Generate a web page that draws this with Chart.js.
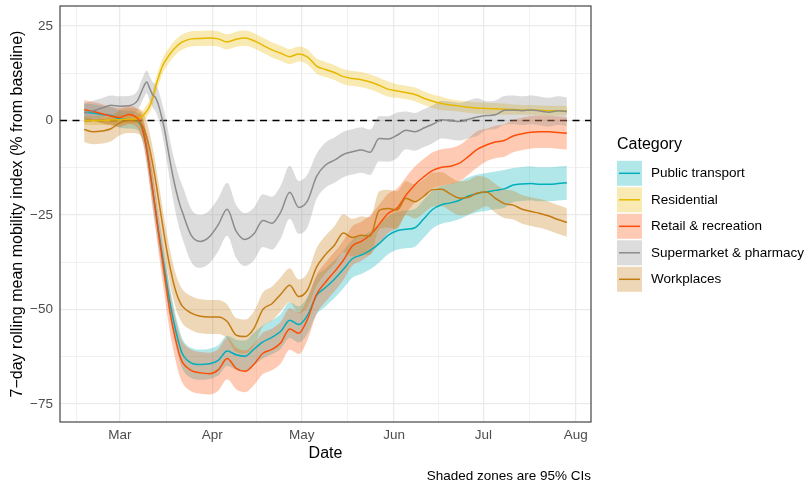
<!DOCTYPE html>
<html>
<head>
<meta charset="utf-8">
<title>Mobility</title>
<script src="https://cdn.jsdelivr.net/npm/chart.js@4.4.1/dist/chart.umd.min.js"></script>
<style>
  html, body { margin: 0; padding: 0; background: #fff; }
</style>
</head>
<body>
<canvas id="chart-mobility" width="809" height="482"></canvas>
<script>
// days counted from 1 March 2020
const days = [-12, -9, -6, -3, 0, 3, 6,
  7, 8, 9, 10, 11, 12, 13, 14, 15, 16, 17, 18, 19, 20, 21,
  24, 27, 30, 33, 36, 39, 42, 45, 48, 51, 54, 57, 60, 63, 66, 69, 72, 75, 78, 81, 84, 87, 90, 93, 96, 99, 102, 105,
  108, 111, 114, 117, 120, 123, 126, 129, 132, 135, 138, 141, 144, 147, 150];

const monthStarts = [0, 31, 61, 92, 122, 153];
const monthLabels = ['Mar', 'Apr', 'May', 'Jun', 'Jul', 'Aug'];
const febStart = -29;
const yTicks = [-75, -50, -25, 0, 25];

const categories = ['Public transport', 'Residential', 'Retail & recreation', 'Supermarket & pharmacy', 'Workplaces'];
const lineColors = ['#00AFBB', '#E7B800', '#FC4E07', '#8C8C8C', '#C47B12'];
const bandColors = ['rgba(0,175,187,0.3)', 'rgba(231,184,0,0.3)', 'rgba(252,78,7,0.3)', 'rgba(140,140,140,0.3)', 'rgba(196,123,18,0.3)'];

const transitMean = [2.2, 2.0, 1.6, 1.3, 0.4, 0.2, -0.2,
  -1.2, -3.5, -7.5, -13, -18.5, -24, -29.5, -34.5, -39.5, -44.5, -49, -53, -56.5, -59.5, -61.8,
  -64.2, -64.6, -64.4, -63.5, -61, -62, -62.4, -60.5, -58.6, -57.4, -55.8, -52.9, -54, -51.5, -46.3, -44.2, -42, -39.4, -36.6, -35.6, -34.4, -32.6, -30.4, -29.2, -28.8, -28.4, -26, -23.5,
  -22.3, -21.8, -21.1, -20, -19.3, -18.9, -18.5, -18.1, -17.1, -16.8, -16.7, -16.9, -16.9, -16.7, -16.5];
const transitLow = [-0.1, -0.3, -0.7, -1.0, -1.9, -2.1, -2.5,
  -3.8, -6.4, -10.7, -16.5, -22.3, -28, -33.5, -38.5, -43.5, -48.5, -53, -57, -60.5, -63.5, -65.8,
  -68.2, -68.6, -68.4, -67.5, -65, -66, -66.6, -64.8, -63, -61.9, -60.4, -57.6, -58.8, -56.4, -51.3, -49.2, -47, -44.4, -41.6, -40.6, -39.4, -37.6, -35.4, -34.2, -33.8, -33.4, -31, -28.5,
  -27.3, -26.8, -26.1, -25, -24.3, -23.9, -23.5, -23.1, -21.6, -21.3, -21.2, -21.4, -21.4, -21.2, -21];
const transitHigh = [4.5, 4.3, 3.9, 3.6, 2.7, 2.5, 2.1,
  1.4, -0.6, -4.3, -9.5, -14.7, -20, -25.5, -30.5, -35.5, -40.5, -45, -49, -52.5, -55.5, -57.8,
  -60.2, -60.6, -60.4, -59.5, -57, -58, -58.2, -56.2, -54.2, -52.9, -51.2, -48.2, -49.2, -46.6, -41.3, -39.2, -37, -34.4, -31.6, -30.6, -29.4, -27.6, -25.4, -24.2, -23.8, -23.4, -21, -18.5,
  -17.3, -16.8, -16.1, -15, -14.3, -13.9, -13.5, -13.1, -12.6, -12.3, -12.2, -12.4, -12.4, -12.2, -12];

const residentialMean = [0.0, 0.0, 0.0, 0.1, 0.2, 0.3, 0.5,
  0.8, 1.5, 2.5, 3.8, 6.0, 9.0, 11.5, 13.8, 15.5, 16.7, 17.8, 18.8, 19.6, 20.3, 20.8,
  21.6, 21.7, 21.8, 21.6, 20.8, 21.5, 21.8, 21.1, 19.9, 18.7, 17.8, 16.9, 17.6, 16.8, 14.4, 13.5, 12.7, 11.6, 11.1, 10.8, 10.2, 9.3, 8.3, 7.8, 7.4, 6.9, 5.9, 5.1,
  4.5, 4.1, 3.8, 3.5, 3.3, 3.2, 3.1, 3.0, 2.9, 2.8, 2.8, 2.7, 2.6, 2.6, 2.6];
const residentialLow = [-1.2, -1.2, -1.2, -1.1, -1.0, -0.9, -0.7,
  -0.6, 0.0, 0.9, 2.1, 4.2, 7.1, 9.5, 11.8, 13.5, 14.7, 15.8, 16.8, 17.6, 18.3, 18.8,
  19.6, 19.7, 19.8, 19.6, 18.8, 19.5, 19.8, 19.1, 17.9, 16.7, 15.8, 14.9, 15.6, 14.8, 12.4, 11.5, 10.7, 9.6, 9.1, 8.8, 8.2, 7.3, 6.3, 6.0, 5.6, 5.1, 4.1, 3.3,
  2.7, 2.6, 2.3, 2.0, 1.8, 1.7, 1.6, 1.5, 1.6, 1.5, 1.5, 1.4, 1.3, 1.3, 1.3];
const residentialHigh = [1.2, 1.2, 1.2, 1.3, 1.4, 1.5, 1.7,
  2.2, 3.0, 4.1, 5.5, 7.8, 10.9, 13.5, 15.8, 17.5, 18.7, 19.8, 20.8, 21.6, 22.3, 22.8,
  23.6, 23.7, 23.8, 23.6, 22.8, 23.5, 23.8, 23.1, 21.9, 20.7, 19.8, 18.9, 19.6, 18.8, 16.4, 15.5, 14.7, 13.6, 13.1, 12.8, 12.2, 11.3, 10.3, 9.6, 9.2, 8.7, 7.7, 6.9,
  6.3, 5.6, 5.3, 5.0, 4.8, 4.7, 4.6, 4.5, 4.2, 4.1, 4.1, 4.0, 3.9, 3.9, 3.9];

const retailMean = [2.9, 2.4, 1.8, 1.2, 0.8, 1.6, 0.5,
  -0.8, -3.5, -7.7, -13, -18.5, -24, -30, -35.5, -41, -46.5, -51.5, -55.5, -59, -62, -64,
  -66.2, -66.8, -67, -66, -63, -65.6, -66.4, -64.5, -61.6, -60.6, -58.8, -55.2, -56.3, -52.5, -46, -42.8, -40, -37, -33.2, -32, -30.3, -27.5, -24.6, -23.2, -19.8, -17, -14.9, -13.2,
  -12.4, -12.1, -11.3, -9.5, -7.6, -6.5, -5.7, -5.3, -4.1, -3.5, -3.1, -3.0, -3.0, -3.2, -3.4];
const retailLow = [0.4, -0.1, -0.7, -1.3, -1.7, -0.9, -2.0,
  -3.8, -7.0, -11.7, -17.5, -23.5, -29, -35, -40.8, -46.3, -52, -57, -61, -64.5, -67.5, -69.5,
  -71.7, -72.3, -72.5, -71.5, -68.5, -71.1, -71.9, -70, -67.1, -66.1, -64.3, -60.7, -61.8, -58, -51.2, -48, -45.2, -42.2, -38.4, -37.2, -35.5, -32.7, -29.8, -28.4, -24.6, -21.8, -19.7, -18,
  -17.2, -16.9, -16.1, -14.3, -12.4, -10.8, -10, -9.6, -8.4, -7.8, -7.4, -7.3, -7.3, -7.5, -7.7];
const retailHigh = [5.4, 4.9, 4.3, 3.7, 3.3, 4.1, 3.0,
  2.2, 0.0, -3.7, -8.5, -13.5, -19, -25, -30.2, -35.7, -41, -46, -50, -53.5, -56.5, -58.5,
  -60.7, -61.3, -61.5, -60.5, -57.5, -60.1, -60.9, -59, -56.1, -55.1, -53.3, -49.7, -50.8, -47, -40.8, -37.6, -34.8, -31.8, -28, -26.8, -25.1, -22.3, -19.4, -18, -15, -12.2, -10.1, -8.4,
  -7.6, -7.3, -6.5, -4.7, -2.8, -2.2, -1.4, -1.0, 0.2, 0.8, 1.2, 1.3, 1.3, 1.1, 0.9];

const groceryMean = [2.0, 2.6, 3.3, 4.0, 3.8, 3.9, 5.4,
  7.2, 9.0, 10.2, 8.5, 6.8, 6.0, 4.0, 1.0, -2.5, -7, -11.5, -15.5, -19, -22, -24.3,
  -30.5, -32, -30.8, -27.6, -23.5, -29.3, -31.5, -30, -26.5, -27.2, -24.2, -19, -23, -21.2, -14.8, -11.8, -10.5, -9, -8.3, -7.8, -8.4, -4.8, -4.9, -3.9, -2.6, -3.0, -2.0, -1.0,
  0.2, 0.0, -0.3, 0.3, 0.9, 1.3, 1.5, 2.7, 2.8, 2.6, 2.8, 2.5, 2.2, 2.6, 2.3];
const groceryLow = [-0.6, 0.0, 0.7, 1.4, 1.2, 1.3, 2.8,
  4.2, 6.0, 7.2, 5.3, 3.4, 2.4, 0.2, -3.0, -7.0, -12.0, -17.0, -21.5, -25.5, -28.8, -31.3,
  -37.5, -39, -37.8, -34.6, -30.5, -36.3, -38.5, -37, -33.5, -34.2, -31.2, -26, -30, -28.2, -20.8, -17.8, -16.5, -15, -14.3, -13.8, -14.4, -10.8, -10.9, -9.9, -7.6, -8, -7, -6,
  -4.8, -5, -5.3, -4.7, -4.1, -2.5, -2.3, -1.1, -1.0, -1.2, -1.0, -1.3, -1.6, -1.2, -1.5];
const groceryHigh = [4.6, 5.2, 5.9, 6.6, 6.4, 6.5, 8.0,
  10.2, 12.0, 13.2, 11.7, 10.2, 9.6, 7.8, 5.0, 2.0, -2.0, -6.0, -9.5, -12.5, -15.2, -17.3,
  -23.5, -25, -23.8, -20.6, -16.5, -22.3, -24.5, -23, -19.5, -20.2, -17.2, -12, -16, -14.2, -8.8, -5.8, -4.5, -3, -2.3, -1.8, -2.4, 1.2, 1.1, 2.1, 2.4, 2.0, 3.0, 4.0,
  5.2, 5.0, 4.7, 5.3, 5.9, 5.1, 5.3, 6.5, 6.6, 6.4, 6.6, 6.3, 6.0, 6.4, 6.1];

const workMean = [-2.4, -3.0, -2.8, -2.2, -0.6, 0.0, -0.2,
  -0.6, -2.0, -4.3, -7.5, -11.5, -16, -21, -26, -31, -35.5, -39.5, -43, -45.8, -47.8, -49.2,
  -51, -51.8, -52, -52, -53.2, -56.8, -57.2, -55, -50, -48.5, -46, -43.6, -46.6, -44.8, -38.8, -35.5, -33, -29.8, -31, -30.4, -30.6, -23.8, -23.3, -23.7, -20.6, -21.5, -20, -18.3,
  -18.2, -19.5, -20.6, -20.3, -19.2, -18.9, -20.6, -22, -22.4, -23.5, -24.1, -24.6, -25.3, -26.2, -27.0];
const workLow = [-5.7, -6.3, -6.1, -5.5, -3.9, -3.3, -3.5,
  -4.1, -5.7, -8.3, -11.7, -15.9, -20.5, -25.5, -30.5, -35.5, -40, -44, -47.5, -50.3, -52.3, -53.7,
  -55.5, -56.3, -56.5, -56.5, -57.7, -61.3, -61.7, -59.5, -54.5, -53, -50.5, -48.1, -51.1, -49.3, -43.8, -40.5, -38, -34.8, -36, -35.4, -35.6, -28.8, -28.3, -28.7, -25.1, -26, -24.5, -22.8,
  -22.7, -24, -25.1, -24.8, -23.7, -22.7, -24.4, -25.8, -26.2, -27.3, -27.9, -28.4, -29.1, -30, -30.8];
const workHigh = [0.9, 0.3, 0.5, 1.1, 2.7, 3.3, 3.1,
  2.9, 1.7, -0.3, -3.3, -7.1, -11.5, -16.5, -21.5, -26.5, -31, -35, -38.5, -41.3, -43.3, -44.7,
  -46.5, -47.3, -47.5, -47.5, -48.7, -52.3, -52.7, -50.5, -45.5, -44, -41.5, -39.1, -42.1, -40.3, -33.8, -30.5, -28, -24.8, -26, -25.4, -25.6, -18.8, -18.3, -18.7, -16.1, -17, -15.5, -13.8,
  -13.7, -15, -16.1, -15.8, -14.7, -15.1, -16.8, -18.2, -18.6, -19.7, -20.3, -20.8, -21.5, -22.4, -23.2];

const series = [
  { mean: transitMean, low: transitLow, high: transitHigh },
  { mean: residentialMean, low: residentialLow, high: residentialHigh },
  { mean: retailMean, low: retailLow, high: retailHigh },
  { mean: groceryMean, low: groceryLow, high: groceryHigh },
  { mean: workMean, low: workLow, high: workHigh },
];

const FONT = "'Liberation Sans', Arial, Helvetica, sans-serif";
Chart.defaults.font.family = FONT;

const toPoints = arr => days.map((d, i) => ({ x: d, y: arr[i] }));

// lines first in the list are drawn last, so reverse to keep Workplaces on top
const lineSets = [];
const bandSets = [];
for (let i = categories.length - 1; i >= 0; i--) {
  lineSets.push({
    label: categories[i],
    data: toPoints(series[i].mean),
    borderColor: lineColors[i],
    borderWidth: 1.5,
    pointRadius: 0,
    fill: false,
    cubicInterpolationMode: 'monotone',
  });
  bandSets.push({
    label: categories[i] + ' low',
    data: toPoints(series[i].low),
    borderWidth: 0,
    borderColor: 'transparent',
    pointRadius: 0,
    fill: false,
    cubicInterpolationMode: 'monotone',
  });
  bandSets.push({
    label: categories[i] + ' high',
    data: toPoints(series[i].high),
    borderWidth: 0,
    borderColor: 'transparent',
    backgroundColor: bandColors[i],
    pointRadius: 0,
    fill: '-1',
    cubicInterpolationMode: 'monotone',
  });
}

const xMinor = monthStarts.map((m, i) => ((i ? monthStarts[i - 1] : febStart) + m) / 2);
const yMinor = yTicks.slice(1).map((v, i) => (v + yTicks[i]) / 2);

const ggDecor = {
  id: 'ggDecor',
  beforeDatasetsDraw(chart) {
    // zero reference line sits under the ribbons
    const { ctx, chartArea: a, scales: { y } } = chart;
    const y0 = y.getPixelForValue(0);
    ctx.save();
    ctx.strokeStyle = '#000';
    ctx.lineWidth = 1.7;
    ctx.setLineDash([7, 5.5]);
    ctx.beginPath();
    ctx.moveTo(a.left, y0);
    ctx.lineTo(a.right, y0);
    ctx.stroke();
    ctx.restore();
  },
  afterDatasetsDraw(chart) {
    const { ctx, chartArea: a } = chart;
    ctx.save();
    ctx.strokeStyle = '#333';
    ctx.lineWidth = 1.1;
    ctx.strokeRect(a.left, a.top, a.right - a.left, a.bottom - a.top);
    ctx.restore();
  },
  afterDraw(chart) {
    const { ctx, chartArea: a } = chart;
    const mid = (a.top + a.bottom) / 2;
    const keyX = a.right + 26;
    const textX = a.right + 60;
    ctx.save();
    ctx.textBaseline = 'middle';
    ctx.textAlign = 'left';
    ctx.fillStyle = '#000';
    ctx.font = '16px ' + FONT;
    ctx.fillText('Category', keyX, mid - 69);
    categories.forEach((name, i) => {
      const cy = mid - 40.7 + i * 26.5;
      ctx.fillStyle = bandColors[i];
      ctx.fillRect(keyX, cy - 12.5, 25, 25);
      ctx.strokeStyle = lineColors[i];
      ctx.lineWidth = 1.5;
      ctx.beginPath();
      ctx.moveTo(keyX + 2, cy);
      ctx.lineTo(keyX + 23, cy);
      ctx.stroke();
      ctx.fillStyle = '#000';
      ctx.font = '13.5px ' + FONT;
      ctx.fillText(name, textX, cy);
    });
    // caption
    ctx.textAlign = 'right';
    ctx.font = '13.5px ' + FONT;
    ctx.fillText('Shaded zones are 95% CIs', a.right, 476);
    ctx.restore();
  },
};

const gridWidth = ctx => (ctx.tick && ctx.tick.minor ? 0.8 : 1.3);
const gridColor = ctx => (ctx.tick && ctx.tick.minor ? '#EEEEEE' : '#EBEBEB');

new Chart(document.getElementById('chart-mobility'), {
  type: 'line',
  data: { datasets: [...lineSets, ...bandSets] },
  plugins: [ggDecor],
  options: {
    responsive: false,
    animation: false,
    events: [],
    layout: { padding: { left: 0, top: 6, right: 218, bottom: 0 } },
    plugins: {
      legend: { display: false },
      tooltip: { enabled: false },
    },
    scales: {
      x: {
        type: 'linear',
        min: -20.1,
        max: 158.1,
        afterBuildTicks: scale => {
          scale.ticks = monthStarts.map(v => ({ value: v }))
            .concat(xMinor.map(v => ({ value: v, minor: true })))
            .sort((p, q) => p.value - q.value);
        },
        afterFit: scale => { scale.height = 60; },
        ticks: {
          autoSkip: false,
          maxRotation: 0,
          padding: 5,
          color: '#4D4D4D',
          font: { size: 13.5 },
          callback: value => {
            const k = monthStarts.indexOf(value);
            return k >= 0 ? monthLabels[k] : '';
          },
        },
        grid: { color: gridColor, lineWidth: gridWidth, drawTicks: false },
        border: { display: false },
        title: {
          display: true,
          text: 'Date',
          color: '#000',
          font: { size: 16 },
          padding: { top: 0, bottom: 19 },
        },
      },
      y: {
        type: 'linear',
        min: -79.8,
        max: 30.3,
        afterBuildTicks: scale => {
          scale.ticks = yTicks.map(v => ({ value: v }))
            .concat(yMinor.map(v => ({ value: v, minor: true })))
            .sort((p, q) => p.value - q.value);
        },
        afterFit: scale => {
          scale.width = 60;
          // labels sit well inside the panel, no extra edge room needed
          scale.paddingTop = 0;
          scale.paddingBottom = 0;
        },
        ticks: {
          autoSkip: false,
          padding: 7,
          color: '#4D4D4D',
          font: { size: 13.5 },
          callback: value => (yTicks.includes(value) ? String(value).replace('-', '\u2212') : ''),
        },
        grid: { color: gridColor, lineWidth: gridWidth, drawTicks: false },
        border: { display: false },
        title: {
          display: true,
          text: '7\u2212day rolling mean mobility index (% from baseline)',
          color: '#000',
          font: { size: 16 },
          padding: { top: 8, bottom: 0 },
        },
      },
    },
  },
});
</script>
</body>
</html>
